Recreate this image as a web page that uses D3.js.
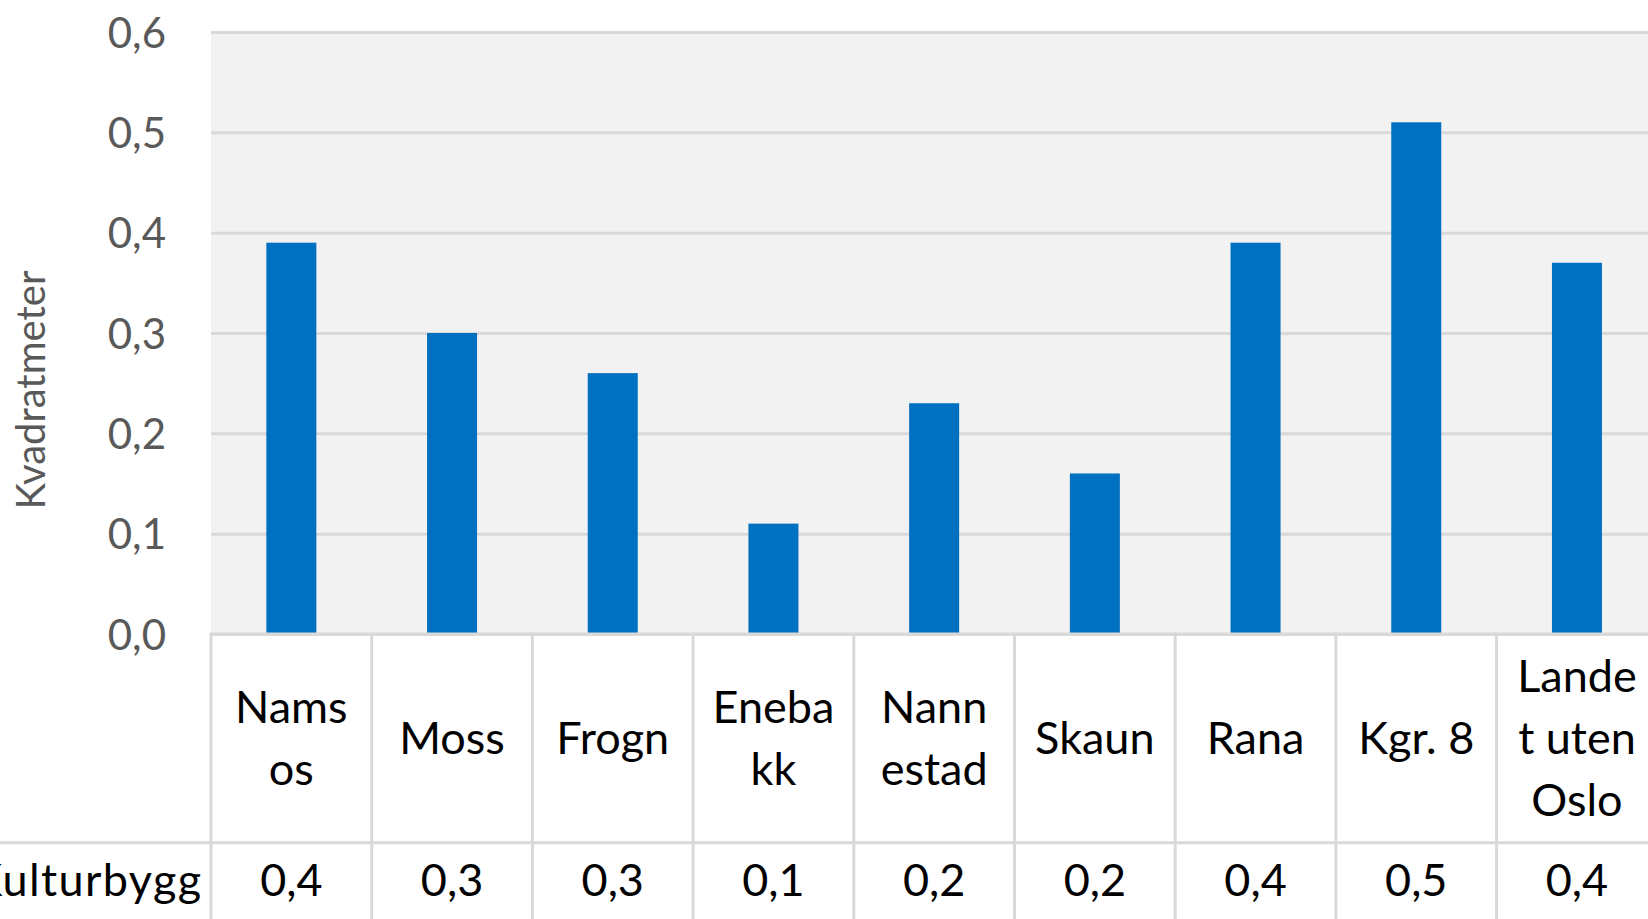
<!DOCTYPE html>
<html>
<head>
<meta charset="utf-8">
<script src="https://cdn.jsdelivr.net/npm/d3@7"></script>
<style>
  html, body { margin: 0; padding: 0; background: #ffffff; }
  svg { display: block; }
  text { font-family: Lato, "Noto Sans", sans-serif; }
</style>
</head>
<body>
<svg id="chart" width="1648" height="919"></svg>
<script>
// ---- data ----
const categories = ["Namsos", "Moss", "Frogn", "Enebakk", "Nannestad", "Skaun", "Rana", "Kgr. 8", "Landet uten Oslo"];
const categoryLines = [["Nams", "os"], ["Moss"], ["Frogn"], ["Eneba", "kk"], ["Nann", "estad"], ["Skaun"], ["Rana"], ["Kgr. 8"], ["Lande", "t uten", "Oslo"]];
const values = [0.39, 0.30, 0.26, 0.11, 0.23, 0.16, 0.39, 0.51, 0.37];
const seriesName = "Kulturbygg";
const yTickValues = [0, 0.1, 0.2, 0.3, 0.4, 0.5, 0.6];
const yTickLabels = ["0,0", "0,1", "0,2", "0,3", "0,4", "0,5", "0,6"];
const yTitle = "Kvadratmeter";

// ---- layout ----
const W = 1648, H = 919;
const plotLeft = 211, plotTop = 32, plotBottom = 634;
const bandW = 160.7;
const plotRight = plotLeft + bandW * categories.length;
const rowLineY = 842.7;
const gridColor = "#d9d9d9";

const svg = d3.select("#chart");

const x = d3.scaleBand().domain(categories).range([plotLeft, plotRight]).paddingInner(0).paddingOuter(0);
const y = d3.scaleLinear().domain([0, 0.6]).range([plotBottom, plotTop]);

// plot background
svg.append("rect")
  .attr("x", plotLeft).attr("y", y(0.6))
  .attr("width", W - plotLeft).attr("height", y(0) - y(0.6))
  .attr("fill", "#f2f2f2");

// gridlines + tick labels via axis
const yAxis = d3.axisLeft(y)
  .tickValues(yTickValues)
  .tickFormat((d, i) => yTickLabels[i])
  .tickSize(-(W - plotLeft))
  .tickPadding(45);

const gAxis = svg.append("g")
  .attr("transform", `translate(${plotLeft},0)`)
  .call(yAxis);
gAxis.select(".domain").remove();
gAxis.selectAll(".tick line")
  .attr("stroke", gridColor).attr("stroke-width", 3);
gAxis.selectAll(".tick text")
  .attr("fill", "#595959")
  .style("font-size", "42px")
  .style("font-family", "Lato, 'Noto Sans', sans-serif")
  .attr("dy", "0.36em");

// bars
const barW = 50;
svg.append("g").selectAll("rect")
  .data(values)
  .join("rect")
  .attr("x", (d, i) => x(categories[i]) + (x.bandwidth() - barW) / 2)
  .attr("y", d => y(d))
  .attr("width", barW)
  .attr("height", d => y(0) - y(d))
  .attr("fill", "#0070c0");

// zero line (top of data table) drawn over bars
svg.append("line")
  .attr("x1", plotLeft).attr("x2", W)
  .attr("y1", y(0)).attr("y2", y(0))
  .attr("stroke", gridColor).attr("stroke-width", 3);

// data table lines
const tableG = svg.append("g");
const bounds = categories.map(c => x(c)).concat([plotRight]);
tableG.selectAll("line.v")
  .data(bounds)
  .join("line")
  .attr("class", "v")
  .attr("x1", d => d).attr("x2", d => d)
  .attr("y1", y(0) - 1.5).attr("y2", H)
  .attr("stroke", gridColor).attr("stroke-width", 3);
tableG.append("line")
  .attr("x1", 0).attr("x2", W)
  .attr("y1", rowLineY).attr("y2", rowLineY)
  .attr("stroke", gridColor).attr("stroke-width", 3);

// category labels
const lineH = 61.7;
const midBaseline = 754;
const catG = svg.append("g");
categoryLines.forEach((lines, i) => {
  const cx = x(categories[i]) + x.bandwidth() / 2;
  const n = lines.length;
  lines.forEach((t, j) => {
    catG.append("text")
      .attr("x", cx)
      .attr("y", midBaseline + (j - (n - 1) / 2) * lineH)
      .attr("text-anchor", "middle")
      .attr("fill", "#000000")
      .style("font-size", "45px")
      .text(t);
  });
});

// value row
const fmt = v => d3.format(".1f")(v).replace(".", ",");
svg.append("g").selectAll("text")
  .data(values)
  .join("text")
  .attr("x", (d, i) => x(categories[i]) + x.bandwidth() / 2)
  .attr("y", 896)
  .attr("text-anchor", "middle")
  .attr("fill", "#000000")
  .style("font-size", "45px")
  .text(d => fmt(d));

// row header (cut at the left edge, as in the reference)
svg.append("text")
  .attr("x", 202.5).attr("y", 896)
  .attr("text-anchor", "end")
  .attr("fill", "#000000")
  .style("font-size", "45px")
  .style("letter-spacing", "1.4px")
  .text(seriesName);

// y axis title
svg.append("text")
  .attr("transform", `translate(45,390) rotate(-90)`)
  .attr("text-anchor", "middle")
  .attr("fill", "#595959")
  .style("font-size", "40px")
  .text(yTitle);
</script>
</body>
</html>
